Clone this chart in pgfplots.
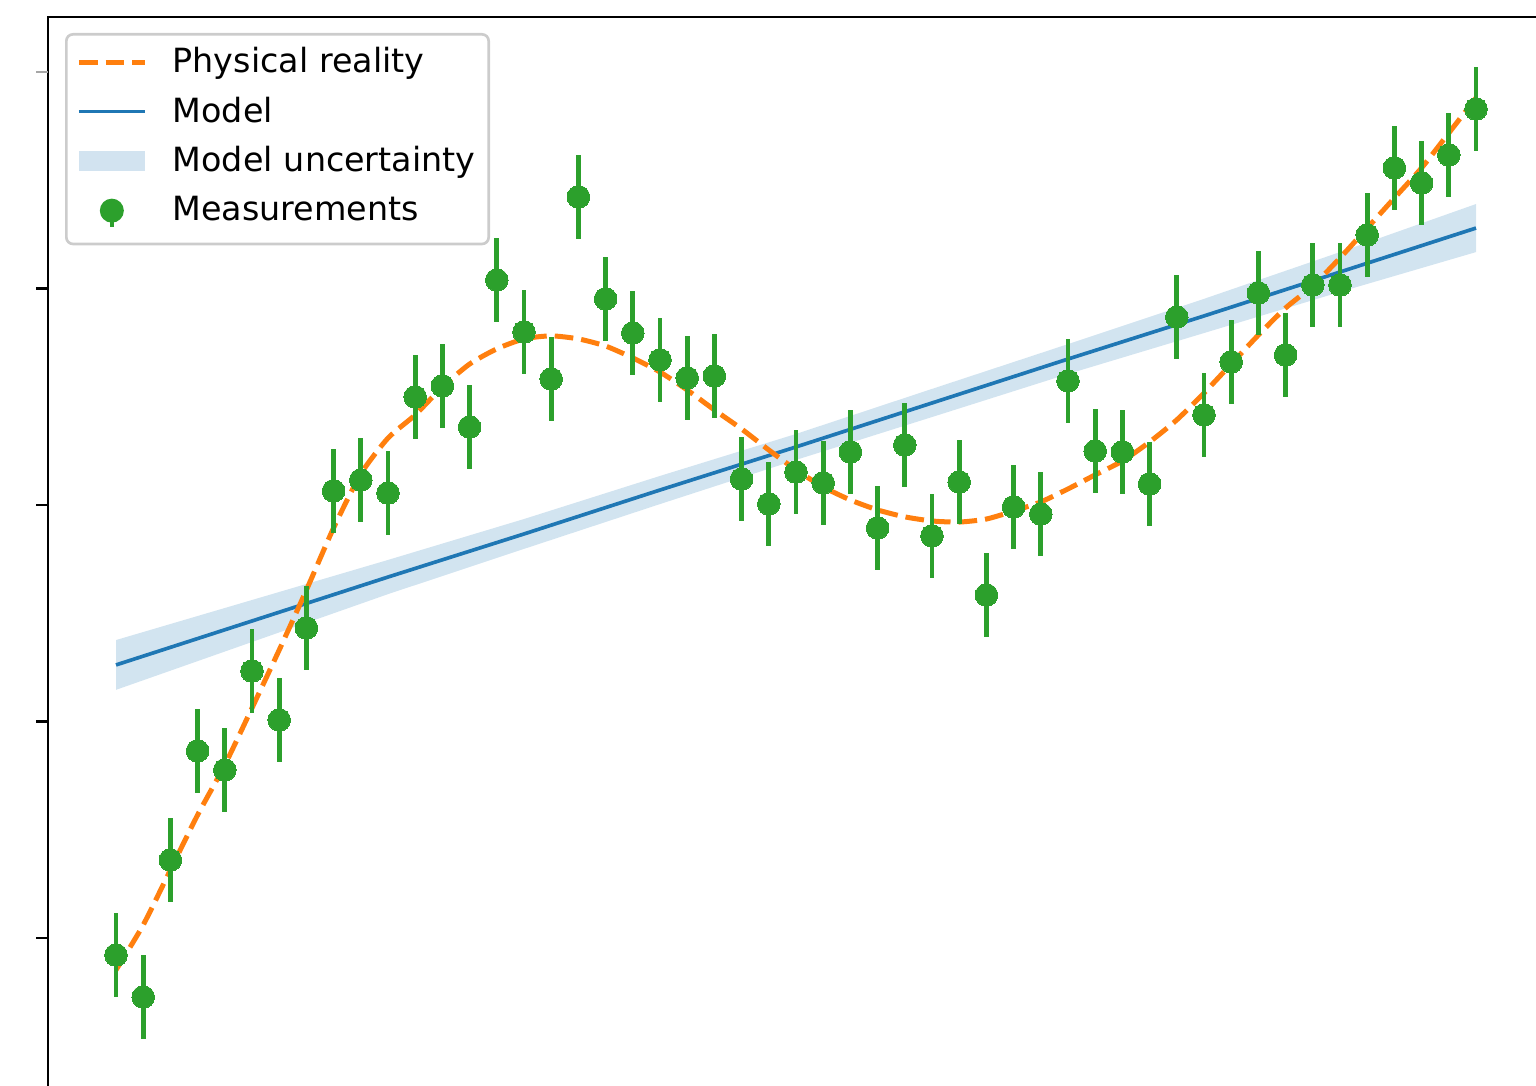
\documentclass[border=0pt]{standalone}
\usepackage{fontspec}
\setmainfont{DejaVu Sans}
\usepackage{pgfplots}
\usepackage{pgfplotstable}
\pgfplotsset{compat=1.18}
\definecolor{mplblue}{HTML}{1F77B4}
\definecolor{mplorange}{HTML}{FF7F0E}
\definecolor{mplgreen}{HTML}{2CA02C}

\pgfplotstableread{
x y
0.0 -0.079
0.2 -0.273
0.4 0.360
0.6 0.864
0.8 0.776
1.0 1.233
1.2 1.007
1.4 1.432
1.6 2.065
1.8 2.115
2.0 2.055
2.2 2.499
2.4 2.550
2.6 2.360
2.8 3.039
3.0 2.799
3.2 2.582
3.4 3.423
3.6 2.952
3.8 2.794
4.0 2.670
4.2 2.587
4.4 2.596
4.6 2.120
4.8 2.005
5.0 2.152
5.2 2.102
5.4 2.245
5.6 1.894
5.8 2.277
6.0 1.857
6.2 2.106
6.4 1.584
6.6 1.991
6.8 1.958
7.0 2.573
7.2 2.249
7.4 2.245
7.6 2.097
7.8 2.868
8.0 2.416
8.2 2.661
8.4 2.979
8.6 2.693
8.8 3.016
9.0 3.016
9.2 3.247
9.4 3.557
9.6 3.487
9.8 3.617
10.0 3.829
}\measured

\pgfplotstableread{
x y
0.0 -0.148
0.2 0.060
0.4 0.314
0.6 0.568
0.8 0.799
1.0 1.062
1.2 1.330
1.4 1.607
1.6 1.894
1.8 2.143
2.0 2.309
2.2 2.416
2.4 2.545
2.6 2.651
2.8 2.721
3.0 2.767
3.2 2.781
3.4 2.767
3.6 2.734
3.8 2.679
4.0 2.614
4.2 2.531
4.4 2.439
4.6 2.351
4.8 2.254
5.0 2.162
5.2 2.083
5.4 2.023
5.6 1.977
5.8 1.945
6.0 1.926
6.2 1.921
6.4 1.935
6.6 1.972
6.8 2.014
7.0 2.074
7.2 2.139
7.4 2.203
7.6 2.291
7.8 2.393
8.0 2.517
8.2 2.651
8.4 2.785
8.6 2.910
8.8 3.012
9.0 3.141
9.2 3.279
9.4 3.418
9.6 3.557
9.8 3.718
10.0 3.880
}\reality

\pgfplotstableread{
x y
0 1.261
1 1.464
2 1.667
3 1.866
4 2.069
5 2.268
6 2.471
7 2.674
8 2.873
9 3.076
10 3.279
}\model

\pgfplotstableread{
x y
0 1.376
1 1.561
2 1.746
3 1.935
4 2.134
5 2.328
6 2.536
7 2.743
8 2.952
9 3.168
10 3.390
10 3.168
9 2.984
8 2.794
7 2.605
6 2.406
5 2.208
4 2.004
3 1.797
2 1.588
1 1.367
0 1.146
}\band

\begin{document}
\begin{tikzpicture}
\begin{axis}[
  at={(14.4pt,-1.05pt)}, anchor=south west,
  scale only axis, width=448.8pt, height=321.75pt,
  xmin=-0.5, xmax=10.5, ymin=-0.70, ymax=4.254,
  axis line style={line width=0.8pt, black},
  xtick=\empty,
  ytick={0,1,2,3}, yticklabels={},
  extra y ticks={4}, extra y tick labels={},
  extra y tick style={major tick style={draw=black!35}},
  ytick pos=left, tick align=outside, major tick length=3.5pt,
  tick style={black, line width=0.8pt},
  legend cell align=left,
  legend style={at={(0,1)}, anchor=north west, xshift=5.1pt, yshift=-4.8pt,
    draw=black!20, line width=0.8pt, rounded corners=2pt, fill=white,
    inner xsep=3pt, inner ysep=4.4pt, row sep=5.6pt,
    font=\fontsize{10pt}{12pt}\selectfont,
    nodes={inner sep=0pt, text height=7.2pt, text depth=2pt, text width=91.8pt, align=left},
    /tikz/every odd column/.append style={column sep=7.6pt}},
]
\addplot[fill=mplblue, fill opacity=0.2, draw=none, forget plot] table[x=x, y=y] {\band} -- cycle;
\addplot[mplblue, line width=1.1pt, forget plot] table[x=x, y=y] {\model};
\addplot[mplorange, line width=1.5pt, dash pattern=on 5.6pt off 2.4pt, smooth, tension=0.4, forget plot] table[x=x, y=y] {\reality};
\addplot[forget plot, only marks, mark=*, mark size=3.4pt, mark options={draw=mplgreen, fill=mplgreen, line width=0pt},
  error bars/.cd, y dir=both, y fixed=0.195, error mark=none,
  error bar style={mplgreen, line width=1.4pt}] table[x=x, y=y] {\measured};

\addlegendimage{legend image code/.code={\path[draw=none] (0pt,-4.5pt) rectangle (19.8pt,4.5pt); \draw[mplorange, line width=1.5pt, dash pattern=on 5.6pt off 2.4pt, sharp corners] (0pt,0.5pt) -- (19.8pt,0.5pt);}}
\addlegendentry{Physical reality}
\addlegendimage{legend image code/.code={\path[draw=none] (0pt,-4.5pt) rectangle (19.8pt,4.5pt); \draw[mplblue, line width=0.9pt, sharp corners] (0pt,0.5pt) -- (19.8pt,0.5pt);}}
\addlegendentry{Model}
\addlegendimage{legend image code/.code={\path[draw=none] (0pt,-4.5pt) rectangle (19.8pt,4.5pt); \path[draw=none, fill=mplblue, fill opacity=0.2, sharp corners] (0pt,-2.5pt) rectangle (19.8pt,3.5pt);}}
\addlegendentry{Model uncertainty}
\addlegendimage{legend image code/.code={\path[draw=none] (0pt,-4.5pt) rectangle (19.8pt,4.5pt); \draw[mplgreen, line width=1.4pt] (9.9pt,-4.4pt) -- (9.9pt,2pt); \path[draw=none, fill=mplgreen] (9.9pt,0.5pt) circle (3.6pt);}}
\addlegendentry{Measurements}
\end{axis}
\pgfresetboundingbox
\useasboundingbox (0,0) rectangle (460.8pt,325.8pt);
\end{tikzpicture}
\end{document}
